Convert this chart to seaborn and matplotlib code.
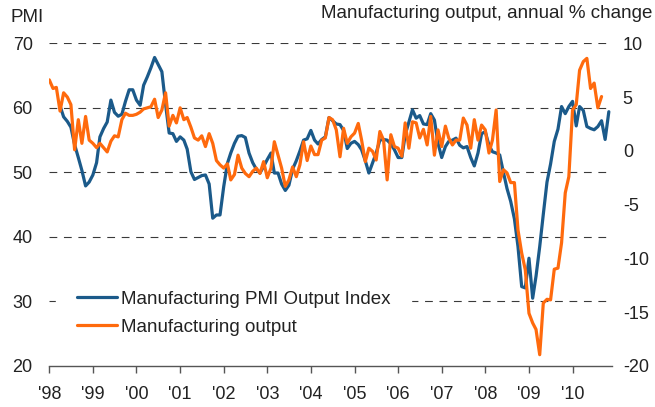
import matplotlib
matplotlib.use("Agg")
import matplotlib.pyplot as plt
import seaborn as sns
import pandas as pd

# ---- data ----
output_start = "1998-01-01"   # Manufacturing output, annual % change (right axis)
output_values = [
    6.6, 5.8, 5.9, 3.7, 5.4, 5.0, 4.3, 0.1, 2.9, 0.7, 3.2, 1.0,
    0.7, 0.3, 0.7, 0.3, -0.1, 0.9, 1.4, 1.3, 2.9, 3.5, 3.3, 3.3,
    3.4, 3.6, 3.9, 4.0, 4.1, 4.8, 3.1, 3.8, 5.4, 2.3, 3.3, 2.6,
    4.0, 2.9, 3.1, 2.2, 1.2, 1.0, 1.4, 0.4, 1.6, 0.7, -0.9, -1.3,
    -1.6, -1.2, -2.7, -2.2, -0.4, -1.6, -2.1, -2.4, -1.9, -1.6, -2.1, -1.0,
    -2.5, -1.6, 0.85, -0.4, -1.6, -3.3, -2.7, -1.5, -2.4, -1.3, 0.85, -0.9,
    0.45, -0.35, -0.35, 1.0, 1.2, 3.1, 2.9, 1.95, -0.55, 2.1, 0.7, 1.3,
    1.65, 2.55, 1.0, -1.0, 0.25, -0.05, -0.85, 1.8, 1.0, -2.7, 1.5, 0.4,
    0.25, -0.5, 2.6, 0.25, 2.7, 2.6, 1.2, 2.0, 0.55, 3.2, -0.4, 1.95,
    0.4, 2.3, 1.2, 0.55, 1.0, 1.0, 3.05, 2.4, 0.25, 2.9, 1.0, 2.4,
    1.95, -0.2, 1.0, 3.8, -2.85, -1.75, -2.05, -2.95, -2.95, -7.35, -9.5, -11.05,
    -15.1, -16.0, -16.6, -18.95, -14.15, -13.8, -13.85, -11.0, -10.9, -8.55, -3.9, -2.4,
    3.8, 4.3, 7.5, 8.3, 8.6, 5.8, 6.3, 4.0, 5.05,
]

pmi_start = "1998-04-01"      # Manufacturing PMI Output Index (left axis)
pmi_values = [
    60.3, 58.6, 57.9, 57.0, 54.3, 52.3, 50.3, 47.9, 48.5,
    49.6, 51.5, 55.5, 56.8, 57.8, 61.2, 59.3, 58.7, 59.0, 61.0, 62.8, 62.8,
    61.2, 60.4, 63.5, 64.8, 66.2, 67.8, 66.7, 65.6, 60.5, 56.1, 56.0, 54.8,
    55.5, 55.0, 53.6, 50.1, 48.9, 49.2, 49.5, 49.6, 48.2, 42.9, 43.4, 43.4,
    47.8, 51.4, 53.0, 54.5, 55.6, 55.7, 55.4, 53.0, 51.5, 50.5, 49.9, 50.9,
    52.0, 53.0, 49.9, 49.9, 48.2, 47.2, 48.0, 50.5, 51.8, 53.3, 55.0, 55.2,
    56.5, 55.0, 54.4, 55.1, 55.5, 58.5, 58.0, 57.5, 57.4, 56.5, 53.7, 54.5,
    54.8, 54.3, 53.5, 51.8, 49.9, 51.5, 53.0, 55.0, 55.1, 55.0, 54.4, 53.5,
    52.3, 52.3, 55.8, 57.8, 59.7, 58.4, 58.8, 57.5, 57.4, 59.1, 58.1, 54.5,
    52.3, 54.0, 54.8, 55.0, 55.3, 54.2, 53.8, 54.0, 52.3, 51.0, 53.0, 56.0,
    56.3, 54.2, 53.2, 53.0, 52.7, 50.0, 47.5, 45.5, 42.8, 38.5, 32.3, 32.1,
    36.7, 30.5, 33.9, 38.5, 43.5, 48.5, 51.3, 54.8, 56.7, 60.2, 59.1, 60.2,
    61.0, 57.2, 60.2, 59.6, 57.1, 56.8, 56.6, 57.1, 58.0, 55.1, 59.4,
]

pmi_ticks = [20, 30, 40, 50, 60, 70]
output_ticks = [-20, -15, -10, -5, 0, 5, 10]
grid_levels = [30, 40, 50, 60, 70]
year_ticks = list(range(1998, 2011))
year_labels = ["'98", "'99", "'00", "'01", "'02", "'03", "'04", "'05",
               "'06", "'07", "'08", "'09", "'10"]

pmi_label = "Manufacturing PMI Output Index"
output_label = "Manufacturing output"

# ---- frames ----
pmi_df = pd.DataFrame({
    "date": pd.date_range(pmi_start, periods=len(pmi_values), freq="MS"),
    "value": pmi_values,
})
out_df = pd.DataFrame({
    "date": pd.date_range(output_start, periods=len(output_values), freq="MS"),
    "value": output_values,
})

sns.set_theme(style="white")
plt.rcParams["font.family"] = ["Liberation Sans", "DejaVu Sans"]

BLUE = "#1B5A8A"
ORANGE = "#FF6A0D"
DARK = "#222222"
FS_TICK = 13
FS_TEXT = 13.5

fig = plt.figure(figsize=(6.55, 4.07), dpi=100)
W, H = 655, 407
x0, x1, ytop, ybot = 49.3, 611.7, 43.3, 366.0
ax = fig.add_axes([x0 / W, (H - ybot) / H, (x1 - x0) / W, (ybot - ytop) / H])
ax2 = ax.twinx()

for lvl in grid_levels:
    ax.axhline(lvl, color="#3a3a3a", linewidth=0.8, linestyle=(0, (7, 6)), zorder=0.5)

sns.lineplot(data=pmi_df, x="date", y="value", ax=ax, color=BLUE,
             linewidth=2.3, label=pmi_label, legend=False)
sns.lineplot(data=out_df, x="date", y="value", ax=ax2, color=ORANGE,
             linewidth=2.3, label=output_label, legend=False)

ax.set_ylim(20, 70)
ax2.set_ylim(-20, 10)
ax.set_xlim(pd.Timestamp("1998-01-01"), pd.Timestamp("2010-11-25"))

ax.set_yticks(pmi_ticks)
ax.set_yticklabels([str(t) for t in pmi_ticks])
ax2.set_yticks(output_ticks)
ax2.set_yticklabels([str(t) for t in output_ticks])
ax.set_xticks([pd.Timestamp(f"{y}-01-01") for y in year_ticks])
ax.set_xticklabels(year_labels)

ax.set_xlabel("")
ax.set_ylabel("")
ax2.set_xlabel("")
ax2.set_ylabel("")

for a in (ax, ax2):
    for s in ("left", "right", "top"):
        a.spines[s].set_visible(False)
ax2.spines["bottom"].set_visible(False)
ax.spines["bottom"].set_color("#555555")
ax.spines["bottom"].set_linewidth(1.0)

ax.tick_params(axis="y", length=0, pad=12, labelsize=FS_TICK, labelcolor=DARK)
ax2.tick_params(axis="y", length=0, pad=8, labelsize=FS_TICK, labelcolor=DARK)
ax.tick_params(axis="x", direction="out", length=5, width=1, color="#555555",
               pad=9.5, labelsize=FS_TICK, labelcolor=DARK, bottom=True)

fig.text(11 / W, 1 - 17 / H, "PMI", fontsize=FS_TEXT, color=DARK, va="center", ha="left")
fig.text(652 / W, 1 - 14 / H, "Manufacturing output, annual % change",
         fontsize=FS_TEXT, color=DARK, va="center", ha="right")

h1, l1 = ax.get_legend_handles_labels()
h2, l2 = ax2.get_legend_handles_labels()
leg = ax2.legend(h1 + h2, l1 + l2, loc="upper left",
                 bbox_to_anchor=(0.012, 0.298), fontsize=FS_TEXT,
                 frameon=True, fancybox=False, framealpha=1.0,
                 edgecolor="white", facecolor="white",
                 handlelength=2.15, handletextpad=0.2, labelspacing=0.58,
                 borderpad=1.1, borderaxespad=0)
for t in leg.get_texts():
    t.set_color(DARK)

fig.savefig("out.png", dpi=100)
